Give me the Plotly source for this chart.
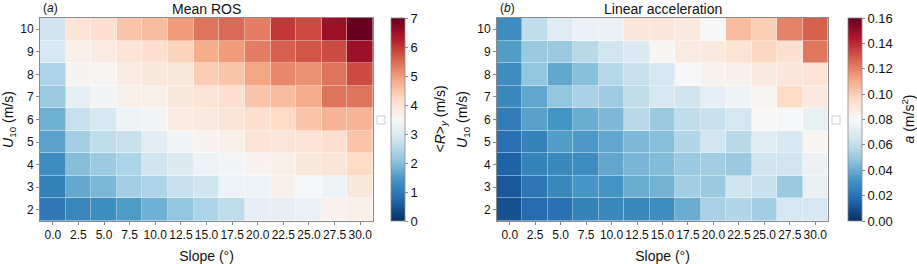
import plotly.graph_objects as go

slopes = [0.0, 2.5, 5.0, 7.5, 10.0, 12.5, 15.0, 17.5, 20.0, 22.5, 25.0, 27.5, 30.0]
slope_labels = ["0.0", "2.5", "5.0", "7.5", "10.0", "12.5", "15.0", "17.5", "20.0", "22.5", "25.0", "27.5", "30.0"]
winds = [2, 3, 4, 5, 6, 7, 8, 9, 10]

# Mean ROS (m/s), rows: U10 = 2 ... 10
ros = [
    [1.0, 1.2, 1.3, 1.5, 1.8, 2.1, 2.4, 2.6, 3.2, 3.2, 3.25, 3.65, 3.7],
    [1.1, 1.7, 1.9, 2.3, 2.4, 2.7, 2.8, 3.3, 3.3, 3.7, 3.45, 3.3, 3.9],
    [1.3, 2.0, 2.2, 2.4, 2.8, 3.0, 3.3, 3.4, 3.6, 3.7, 3.9, 4.0, 4.2],
    [1.6, 2.3, 2.6, 2.7, 3.1, 3.4, 3.6, 3.7, 4.0, 3.95, 4.0, 4.1, 4.5],
    [1.8, 2.7, 2.9, 3.3, 3.4, 3.8, 3.85, 4.0, 4.1, 4.2, 4.5, 4.7, 4.7],
    [2.2, 3.2, 3.4, 3.7, 3.7, 3.9, 4.0, 4.1, 4.5, 4.6, 4.8, 5.4, 5.4],
    [2.4, 3.6, 3.55, 3.8, 3.9, 3.9, 4.4, 4.5, 4.9, 5.2, 5.1, 5.4, 5.8],
    [2.9, 3.7, 3.8, 4.0, 4.1, 4.3, 4.8, 5.0, 5.3, 5.6, 5.7, 5.8, 6.5],
    [2.8, 4.0, 4.1, 4.5, 4.6, 5.0, 5.4, 5.5, 5.3, 6.0, 5.8, 6.5, 7.0],
]

# Linear acceleration (m/s^2), rows: U10 = 2 ... 10
acc = [
    [0.010, 0.018, 0.020, 0.026, 0.028, 0.028, 0.030, 0.040, 0.054, 0.056, 0.052, 0.066, 0.066],
    [0.012, 0.022, 0.028, 0.033, 0.032, 0.040, 0.042, 0.052, 0.050, 0.064, 0.062, 0.050, 0.074],
    [0.015, 0.026, 0.028, 0.030, 0.038, 0.043, 0.045, 0.050, 0.052, 0.050, 0.064, 0.065, 0.075],
    [0.020, 0.026, 0.035, 0.034, 0.038, 0.044, 0.046, 0.056, 0.065, 0.058, 0.070, 0.066, 0.082],
    [0.024, 0.036, 0.032, 0.040, 0.044, 0.058, 0.050, 0.060, 0.062, 0.066, 0.080, 0.079, 0.074],
    [0.028, 0.038, 0.048, 0.054, 0.051, 0.060, 0.067, 0.064, 0.072, 0.076, 0.082, 0.096, 0.088],
    [0.030, 0.048, 0.038, 0.046, 0.057, 0.062, 0.066, 0.079, 0.083, 0.084, 0.088, 0.090, 0.091],
    [0.035, 0.050, 0.050, 0.058, 0.065, 0.068, 0.081, 0.087, 0.088, 0.092, 0.097, 0.093, 0.123],
    [0.030, 0.060, 0.070, 0.075, 0.075, 0.090, 0.090, 0.088, 0.080, 0.105, 0.100, 0.120, 0.128],
]

ros_ticks = [0, 1, 2, 3, 4, 5, 6, 7]
acc_ticks = [0.00, 0.02, 0.04, 0.06, 0.08, 0.10, 0.12, 0.14, 0.16]

rdbu_r = ["#053061", "#2166ac", "#4393c3", "#92c5de", "#d1e5f0", "#f7f7f7",
          "#fddbc7", "#f4a582", "#d6604d", "#b2182b", "#67001f"]
cscale = [[i / (len(rdbu_r) - 1), c] for i, c in enumerate(rdbu_r)]

W, H = 917, 264
FONT = "Liberation Sans, Arial, Helvetica, sans-serif"
GRAY = "#8a8a8a"

def px_x(v):
    return v / W

def px_y(v):
    return 1 - v / H

plot_top, plot_bot = 18, 221
panels = [
    dict(x0=40, x1=373, cb=391, z=ros, zmin=0, zmax=7, ticks=ros_ticks, fmt="d",
         title="Mean ROS", tag="(<i>a</i>)",
         cbtitle="&lt;<i>R</i>&gt;<sub><i>y</i></sub> (m/s)", cbtx=440, sq=377),
    dict(x0=497, x1=828, cb=848, z=acc, zmin=0, zmax=0.16, ticks=acc_ticks, fmt=".2f",
         title="Linear acceleration", tag="(<i>b</i>)",
         cbtitle="<i>a</i> (m/s<sup>2</sup>)", cbtx=908, sq=832),
]

fig = go.Figure()
annotations = []
shapes = []
for i, p in enumerate(panels):
    xa = "x" if i == 0 else "x2"
    ya = "y" if i == 0 else "y2"
    fig.add_trace(go.Heatmap(
        x=slopes, y=winds, z=p["z"], zmin=p["zmin"], zmax=p["zmax"],
        colorscale=cscale, xaxis=xa, yaxis=ya, xgap=0.4, ygap=0.4,
        colorbar=dict(
            x=px_x(p["cb"]), xanchor="left", xref="paper",
            y=px_y(plot_bot), yanchor="bottom", yref="paper",
            len=(plot_bot - plot_top) / H, lenmode="fraction",
            thickness=14, thicknessmode="pixels",
            outlinewidth=0.8, outlinecolor=GRAY,
            tickvals=p["ticks"], tickformat=p["fmt"],
            ticks="outside", ticklen=3, tickcolor=GRAY,
            tickfont=dict(size=13, color="#111"), xpad=0, ypad=0,
        ),
    ))
    axkey = "xaxis" if i == 0 else "xaxis2"
    aykey = "yaxis" if i == 0 else "yaxis2"
    fig.layout[axkey] = dict(
        domain=[px_x(p["x0"]), px_x(p["x1"])], anchor=ya,
        range=[-1.25, 31.25], tickvals=slopes, ticktext=slope_labels,
        tickangle=0, automargin=False,
        ticks="outside", ticklen=3, tickcolor=GRAY,
        showline=True, linecolor=GRAY, linewidth=1, mirror=True,
        showgrid=False, zeroline=False,
        tickfont=dict(size=12, color="#111"),
        title=dict(text="Slope (°)", font=dict(size=14, color="#111"), standoff=10),
    )
    fig.layout[aykey] = dict(
        domain=[px_y(plot_bot), px_y(plot_top)], anchor=xa,
        range=[1.5, 10.5], tickvals=winds, automargin=False,
        ticks="outside", ticklen=3, tickcolor=GRAY,
        showline=True, linecolor=GRAY, linewidth=1, mirror=True,
        showgrid=False, zeroline=False,
        tickfont=dict(size=12, color="#111"),
        title=dict(text="<i>U</i><sub>10</sub> (m/s)", font=dict(size=14, color="#111"), standoff=6),
    )
    annotations.append(dict(
        x=(px_x(p["x0"]) + px_x(p["x1"])) / 2, y=px_y(9), xref="paper", yref="paper",
        text=p["title"], showarrow=False, font=dict(size=14, color="#111"),
        xanchor="center", yanchor="middle"))
    annotations.append(dict(
        x=px_x(p["x0"] + 1), y=px_y(8), xref="paper", yref="paper",
        text=p["tag"], showarrow=False, font=dict(size=12, color="#111"),
        xanchor="left", yanchor="middle"))
    annotations.append(dict(
        x=px_x(p["cbtx"]), y=px_y((plot_top + plot_bot) / 2), xref="paper", yref="paper",
        text=p["cbtitle"], showarrow=False, textangle=-90,
        font=dict(size=14, color="#111"), xanchor="center", yanchor="middle"))
    shapes.append(dict(
        type="rect", xref="paper", yref="paper",
        x0=px_x(p["sq"]), x1=px_x(p["sq"] + 8), y0=px_y(124), y1=px_y(116),
        line=dict(color="#cfcfcf", width=1), fillcolor="white"))

fig.update_layout(
    width=W, height=H, margin=dict(l=0, r=0, t=0, b=0, autoexpand=False),
    paper_bgcolor="white", plot_bgcolor="white",
    font=dict(family=FONT, color="#111"),
    annotations=annotations, shapes=shapes,
)
fig.write_html("out.html",
               config={"displayModeBar": False},
               post_script="document.body.style.margin='0';document.body.style.overflow='hidden';")
